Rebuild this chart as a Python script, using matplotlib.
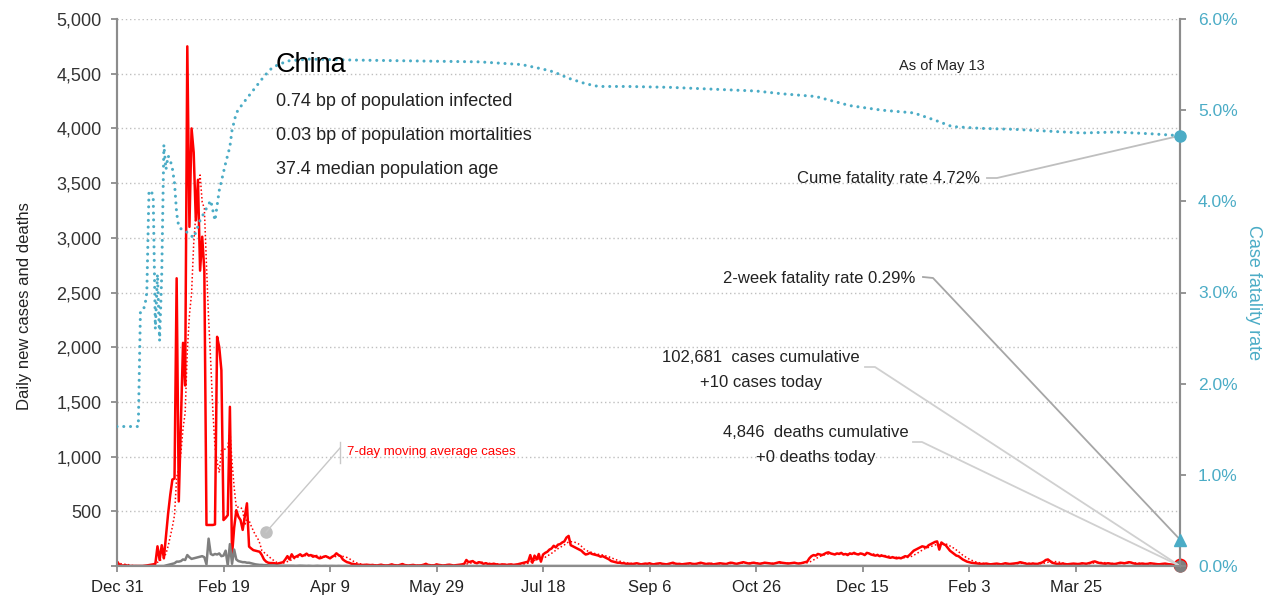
import numpy as np
import pandas as pd
import matplotlib
matplotlib.use('Agg')
import matplotlib.pyplot as plt

plt.rcParams['font.family'] = ['Liberation Sans', 'DejaVu Sans']

# ---- data (daily, Dec 31 2019 .. May 13 2021) ----
start_date = '2019-12-31'
end_date = '2021-05-13'

cases_a = [40, 15, 5, 5, 8, 3, 0, 0, 0, 0, 0, 0, 0, 2, 5, 8, 10, 15]
cases_b = [20, 180, 55, 190, 70, 270, 480, 650, 790, 800, 2630, 590]
cases_c = [1300, 2040, 1650, 4750, 3100, 4000, 3780, 3160, 3530, 2700, 3010, 2700]
cases_d = [375, 375, 375, 375, 380, 2095, 2000, 1790, 420, 440, 465, 1455]
cases_e = [100, 350, 510, 450, 420, 330, 450, 573, 177, 160, 145, 140, 135, 130,
           100, 60, 40, 30, 27, 27]
cases_f = [25, 20, 25, 30, 35, 60]
cases_g = [90, 60, 107, 76, 85, 95, 107, 91, 100, 113, 95, 100, 85, 91, 80, 70,
           75, 85, 90, 80, 70, 85, 95, 116, 100, 90, 60, 46, 35, 30]
cases_h = [21, 18, 15, 12, 10, 10, 8, 12, 10, 8,
           10, 6, 5, 8, 12, 7, 5, 4, 10, 15, 8, 6, 5, 12, 18, 9, 6, 5, 8, 10,
           6, 4, 5, 7, 12, 20, 10, 8, 5, 6, 15, 10, 8, 5, 6, 10, 12, 8, 5, 7,
           10, 12, 15, 20]
cases_i = [55, 35, 40, 45, 30, 25, 35, 30, 20, 25, 20, 15, 18, 20, 15, 12, 10,
           15, 12, 10, 12, 15, 10, 12, 15, 20, 25, 30, 35]
cases_j = [40, 100, 30, 95, 60, 110, 40, 105, 120, 130, 150, 160]
cases_k = [185, 170, 195, 200, 215, 225, 260, 275]
cases_l = [190, 180, 170, 160, 150, 140, 120, 105, 110, 120,
           110, 105, 100, 95, 85, 90, 80, 70, 60, 45,
           40, 35, 30, 30, 25, 25, 20, 20]
cases_m = [20, 18, 22, 25, 20, 15, 18, 22, 20, 25,
           18, 15, 20, 22, 25, 20, 18, 15, 20, 25,
           30, 22, 18, 20, 15, 18, 20, 22, 25, 20,
           18, 20, 25, 30, 25, 20, 18, 22, 20, 15,
           18, 20, 25, 22, 20, 18, 25, 30, 28, 22,
           20, 25, 30, 35, 30, 25, 22, 28, 30, 25,
           22, 20, 25, 30, 28, 25, 22, 20, 25, 30,
           35, 30, 28, 25, 22, 25, 28, 30, 25, 22,
           25, 30, 35]
cases_n = [40, 70, 90, 100, 95, 110, 105,
           100, 110, 120, 125, 115, 110, 105, 115, 110, 120, 105, 110, 100, 115, 110,
           120, 110, 105, 115, 110, 100, 120, 115, 105, 100, 95, 100, 90, 95, 90,
           85, 80, 75, 80, 75, 70, 75, 70, 80, 90]
cases_o = [85, 100, 120, 140, 150, 160, 170, 180, 175, 170, 190, 200, 210, 220, 225,
           150, 215, 200, 190, 165, 140, 125, 110, 95, 90, 75, 60, 50, 40, 35]
cases_p = [30, 28, 25, 22, 20, 18, 20, 22, 18, 15,
           18, 20, 22, 18, 15, 20, 25, 22, 18, 20,
           22, 25, 28, 35, 30, 25, 20, 18, 20, 22,
           20, 18, 25, 30, 40, 55, 60, 45, 30, 25,
           20, 18, 20, 22, 18, 15, 18, 20, 22, 20,
           18, 20, 25, 22, 20, 25, 30, 38, 42, 35,
           28, 25, 22, 20, 25, 22, 20, 18, 20, 25,
           30, 28, 25, 30, 35, 32, 25, 20, 18, 20,
           22, 20, 18, 20, 25, 22, 20, 18, 15, 18,
           20, 22, 18, 15, 14, 12, 15, 12, 10]

deaths_early = [0] * 23 + [
    5, 10, 15, 20, 25, 40, 40, 45, 60, 55,
    100, 80, 65, 70, 75, 80, 85, 90, 80, 15,
    250, 110, 100, 110, 105, 115, 90, 95, 140, 5,
    200, 20, 150, 60, 45, 40, 35, 35, 30, 30,
    25, 20,
    15, 12, 10, 10, 8, 8, 6, 6, 5, 5, 4, 4, 3, 3, 3, 3]
deaths_late = [
    2, 3, 2, 1, 2, 3, 2, 1, 1, 2, 1, 0, 1, 2, 1, 0, 1, 1, 0, 1,
    1, 0, 0, 1, 0, 0, 1, 0, 0, 0, 1, 0, 0, 0, 0, 1, 0, 0, 0, 0,
    0, 0, 0, 0, 0, 0, 0, 0, 0, 0, 0, 0, 0, 0, 0, 0, 0, 0, 0, 0,
    0, 0, 0, 0, 0, 0, 0, 0, 0, 0, 0, 0, 0, 0, 0, 0, 0, 0, 0, 0,
    0, 0, 0, 0, 0, 0, 0, 0, 0, 0, 0, 0, 0, 0, 0, 0, 0, 0, 0, 0,
    0, 0, 0, 0, 0, 0, 0, 0, 0, 0, 0, 0, 0, 0, 0, 0, 0, 0, 0, 0,
    0, 0, 0, 0, 0, 0, 0, 0, 0, 0, 0, 0, 0, 0, 0, 0, 0, 0, 0, 0,
    0, 0, 0, 0, 0, 0, 0, 0, 0, 0, 0, 0, 0, 0, 0, 0, 0, 0, 0, 0,
    0, 0, 0, 0, 0, 0, 0, 0, 0, 0, 0, 0, 0, 0, 0, 0, 0, 0, 0, 0,
    0, 0, 0, 0, 0, 0, 0, 0, 0, 0, 0, 0, 0, 0, 0, 0, 0, 0, 0, 0,
    0, 0, 0, 0, 0, 0, 0, 0, 0, 0, 0, 0, 0, 0, 0, 0, 0, 0, 0, 0,
    0, 0, 0, 0, 0, 0, 0, 0, 0, 0, 0, 0, 0, 0, 0, 0, 0, 0, 0, 0,
    0, 0, 0, 0, 0, 0, 0, 0, 0, 0, 0, 0, 0, 0, 0, 0, 0, 0, 0, 0,
    0, 0, 0, 0, 0, 0, 0, 0, 0, 0, 0, 0, 0, 0, 0, 0, 0, 0, 0, 0,
    0, 0, 0, 0, 0, 0, 0, 0, 0, 0, 0, 0, 0, 0, 0, 0, 0, 0, 0, 0,
    0, 0, 0, 0, 0, 0, 0, 0, 0, 0, 0, 0, 0, 0, 0, 0, 0, 0, 0, 0,
    0, 0, 0, 0, 0, 0, 0, 0, 0, 0, 0, 0, 0, 0, 0, 0, 0, 0, 0, 0,
    0, 0, 0, 0, 0, 0, 0, 0, 0, 0, 0, 0, 0, 0, 0, 0, 0, 0, 0, 0,
    0, 0, 0, 0, 0, 0, 0, 0, 0, 0, 0, 0, 0, 0, 0, 0, 0, 0, 0, 0,
    0, 0, 0, 0, 0, 0, 0, 0, 0, 0, 0, 0, 0, 0, 0, 0, 0, 0, 0, 0,
    0, 0, 0, 0, 0, 0, 0, 0, 0, 0, 0, 0, 0, 0, 0, 0, 0, 0, 0]

# case fatality rate (%), read at these day offsets
cfr_days = [0, 10, 11, 13, 14, 15, 16, 17, 18, 19,
            20, 21, 22, 23, 24, 25, 26, 27, 28, 29,
            31, 33, 36, 39, 41, 44, 46, 48, 51, 53,
            54, 56, 59, 64, 69, 73, 80, 90, 110, 140,
            170, 190, 200, 205, 212, 220, 226, 240, 260, 280,
            300, 312, 328, 344, 359, 374, 384, 392, 406, 421,
            437, 453, 469, 486, 499]
cfr_pct = [1.53, 1.53, 2.80, 2.84, 3.0, 4.10, 4.12, 4.05, 2.60, 3.20,
           2.47, 3.20, 4.62, 4.35, 4.50, 4.45, 4.36, 4.20, 3.87, 3.72,
           3.68, 3.66, 3.60, 3.79, 3.88, 4.01, 3.79, 4.12, 4.42, 4.60,
           4.78, 4.97, 5.07, 5.22, 5.37, 5.47, 5.54, 5.56, 5.55, 5.54,
           5.53, 5.50, 5.45, 5.42, 5.35, 5.29, 5.26, 5.26, 5.25, 5.23,
           5.21, 5.18, 5.15, 5.05, 5.00, 4.97, 4.89, 4.82, 4.80, 4.79,
           4.77, 4.75, 4.76, 4.74, 4.72]

two_week_rate = 0.29
cume_rate = 4.72

tick_dates = ['2019-12-31', '2020-02-19', '2020-04-09', '2020-05-29', '2020-07-18',
              '2020-09-06', '2020-10-26', '2020-12-15', '2021-02-03', '2021-03-25']
y_ticks = [0, 500, 1000, 1500, 2000, 2500, 3000, 3500, 4000, 4500, 5000]
y2_ticks = [0.0, 1.0, 2.0, 3.0, 4.0, 5.0, 6.0]

stats = ['0.74 bp of population infected',
         '0.03 bp of population mortalities',
         '37.4 median population age']

# ---- build series ----
dates = pd.date_range(start_date, end_date, freq='D')
cases = np.array(cases_a + cases_b + cases_c + cases_d + cases_e + cases_f + cases_g
                 + cases_h + cases_i + cases_j + cases_k + cases_l + cases_m + cases_n
                 + cases_o + cases_p, dtype=float)
deaths = np.array(deaths_early + deaths_late, dtype=float)
avg7 = pd.Series(cases).rolling(7, min_periods=1).mean().values
cfr_dates = dates[cfr_days]

RED = '#ff0000'
GRAY = '#7f7f7f'
TEAL = '#4bacc6'
AX = '#8c8c8c'
TXT = '#222222'

fig = plt.figure(figsize=(12.73, 6.07), dpi=100)
ax = fig.add_axes([117 / 1273, 1 - 566 / 607, 1063 / 1273, 547 / 607])
ax2 = ax.twinx()

ax.set_xlim(dates[0], dates[-1])
ax.set_ylim(0, 5000)
ax2.set_ylim(0, 6.0)

for v in y_ticks[1:]:
    ax.axhline(v, color='#bfbfbf', lw=1, ls=(0, (1, 2)), zorder=0)

ax.plot(dates, avg7, color=RED, lw=1.1, ls=(0, (1, 1.5)), zorder=3)
ax.plot(dates, cases, color=RED, lw=1.8, zorder=4)
ax.plot(dates, deaths, color=GRAY, lw=1.8, zorder=5)

ax2.plot(cfr_dates, cfr_pct, color=TEAL, lw=2.2, dashes=(0.01, 2.2),
         dash_capstyle='round', zorder=3)

# end markers
ax2.plot(dates[-1], cfr_pct[-1], 'o', color=TEAL, ms=8, clip_on=False, zorder=6)
ax2.plot(dates[-1], two_week_rate, '^', color=TEAL, ms=9, clip_on=False, zorder=6)
ax.plot(dates[-1], cases[-1], 'o', color=RED, ms=9, clip_on=False, zorder=6)
ax.plot(dates[-1], deaths[-1], 'o', color=GRAY, ms=8, clip_on=False, zorder=7)

# axes styling
ax.spines['top'].set_visible(False)
ax2.spines['top'].set_visible(False)
for a in (ax, ax2):
    for s in ['left', 'right', 'bottom']:
        a.spines[s].set_color(AX)
        a.spines[s].set_linewidth(1.5)

ax.set_xticks(pd.to_datetime(tick_dates))
ax.set_xticklabels([pd.Timestamp(d).strftime('%b ') + str(pd.Timestamp(d).day) for d in tick_dates])
ax.set_yticks(y_ticks)
ax.set_yticklabels([''] + ['{:,}'.format(v) for v in y_ticks[1:]])
ax2.set_yticks(y2_ticks)
ax2.set_yticklabels(['{:.1f}%'.format(v) for v in y2_ticks])

ax.tick_params(axis='x', colors=AX, labelcolor=TXT, labelsize=12, length=4, width=1.3, pad=6)
ax.tick_params(axis='y', colors=AX, labelcolor='#333333', labelsize=13, length=4, width=1.3, pad=7)
ax2.tick_params(axis='y', colors=AX, labelcolor=TEAL, labelsize=12.5, length=4, width=1.3, pad=9)

ax.set_ylabel('Daily new cases and deaths', fontsize=12, color=TXT)
ax.yaxis.set_label_coords(-0.080, 0.475)
ax2.set_ylabel('Case fatality rate', fontsize=13, color=TEAL, rotation=270, va='center')
ax2.yaxis.set_label_coords(1.069, 0.5)

# ---- annotations (layout in pixel space of the plot area) ----
def pa(px, py):
    return ((px - 117) / 1063, (566 - py) / 547)

T = ax2.transAxes
ax2.text(*pa(276, 72), 'China', transform=T, fontsize=19.5, color='black')
for i, s in enumerate(stats):
    ax2.text(*pa(276, 106 + 34 * i), s, transform=T, fontsize=13, color=TXT)

ax2.text(*pa(942, 70), 'As of May 13', transform=T, fontsize=10.5, ha='center', color=TXT)

ax2.text(*pa(980, 183), 'Cume fatality rate {:.2f}%'.format(cume_rate), transform=T,
         fontsize=12, ha='right', color=TXT)
ax2.text(*pa(915, 283), '2-week fatality rate {:.2f}%'.format(two_week_rate), transform=T,
         fontsize=12, ha='right', color=TXT)
ax2.text(*pa(761, 362), '102,681  cases cumulative', transform=T, fontsize=12,
         ha='center', color=TXT)
ax2.text(*pa(761, 387), '+10 cases today', transform=T, fontsize=12, ha='center', color=TXT)
ax2.text(*pa(816, 437), '4,846  deaths cumulative', transform=T, fontsize=12,
         ha='center', color=TXT)
ax2.text(*pa(816, 462), '+0 deaths today', transform=T, fontsize=12, ha='center', color=TXT)

cfr_end = cume_rate / 6.0
tw_end = two_week_rate / 6.0
leaders = [
    ([pa(987, 178), pa(997, 178)], cfr_end, '#bfbfbf'),
    ([pa(923, 277), pa(933, 278)], tw_end, '#a6a6a6'),
    ([pa(865, 367), pa(875, 367)], 0.0, '#d0d0d0'),
    ([pa(913, 442), pa(922, 442)], 0.0, '#d0d0d0'),
]
for pts, yend, col in leaders:
    xs = [p[0] for p in pts] + [1.0]
    ys = [p[1] for p in pts] + [yend]
    ax2.plot(xs, ys, color=col, lw=1.3, transform=T, clip_on=False, zorder=2)

# 7-day average label
ax2.text(*pa(347, 455), '7-day moving average cases', transform=T, fontsize=9.5,
         color=RED)
x0, y0 = pa(340, 442)
x1, y1 = pa(340, 463)
ax2.plot([x0, x1], [y0, y1], color='#c8c8c8', lw=1, transform=T)
dot_day = 70
ax.plot(dates[dot_day], 310, 'o', color='#c0c0c0', ms=8, zorder=6)
xa, ya = pa(340, 448)
xd = (dates[dot_day] - dates[0]).days / (len(dates) - 1)
ax2.plot([xa, xd], [ya, 310 / 5000], color='#c8c8c8', lw=1, transform=T)

fig.savefig('out.png', dpi=100)
